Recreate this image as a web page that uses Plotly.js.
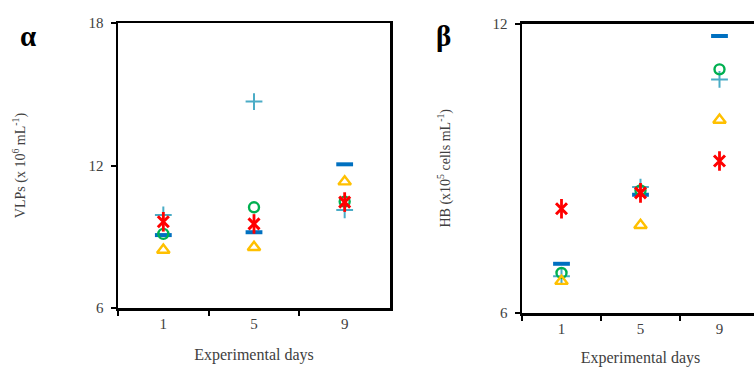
<!DOCTYPE html>
<html>
<head>
<meta charset="utf-8">
<script src="https://cdn.plot.ly/plotly-3.0.1.min.js"></script>
<style>
  html, body { margin: 0; padding: 0; overflow: hidden; background: #fff; }
  #chart { width: 770px; height: 367px; }
</style>
</head>
<body>
<div id="chart"></div>
<script>
// Categories (experimental days)
const days = ["1", "5", "9"];

// Panel α: VLPs (x 10^6 mL^-1)
const vlpDash     = [9.07, 9.19, 12.05];
const vlpCircle   = [9.12, 10.24, 10.48];
const vlpPlus     = [9.92, 14.69, 10.13];
const vlpTriangle = [8.44, 8.56, 11.32];
const vlpStar     = [9.63, 9.54, 10.46];

// Panel β: HB (x10^5 cells mL^-1)
const hbDash     = [7.02, 8.45, 11.74];
const hbCircle   = [6.83, 8.54, 11.05];
const hbPlus     = [6.76, 8.61, 10.84];
const hbTriangle = [6.66, 7.82, 10.00];
const hbStar     = [8.16, 8.49, 9.15];

// Y tick values
const vlpTicks = [6, 12, 18];
const hbTicks = [6, 12];

const C = { dash: "#0070C0", circle: "#00B050", plus: "#4BACC6", tri: "#FFC000", star: "#FF0000" };

function series(xa, ya, d) {
  const base = { x: days, type: "scatter", mode: "markers", xaxis: xa, yaxis: ya, showlegend: false, hoverinfo: "y" };
  return [
    Object.assign({}, base, { y: d.dash, marker: { symbol: "line-ew", size: 12, color: C.dash, line: { color: C.dash, width: 4 } } }),
    Object.assign({}, base, { y: d.plus, marker: { symbol: "cross-thin", size: 12, color: C.plus, line: { color: C.plus, width: 2 } } }),
    Object.assign({}, base, { y: d.circle, marker: { symbol: "circle-open", size: 10, color: C.circle, line: { color: C.circle, width: 2.4 } } }),
    Object.assign({}, base, { y: d.tri, marker: { symbol: "triangle-up-open", size: 11, color: C.tri, line: { color: C.tri, width: 2.4 } } }),
    Object.assign({}, base, { y: d.star, marker: { symbol: "x-thin", size: 11, color: C.star, line: { color: C.star, width: 3 } } }),
    Object.assign({}, base, { y: d.star, marker: { symbol: "line-ns", size: 14, color: C.star, line: { color: C.star, width: 2.8 } } })
  ];
}

const traces = [].concat(
  series("x", "y", { dash: vlpDash, circle: vlpCircle, plus: vlpPlus, tri: vlpTriangle, star: vlpStar }),
  series("x2", "y2", { dash: hbDash, circle: hbCircle, plus: hbPlus, tri: hbTriangle, star: hbStar })
);

const W = 770, H = 367;
const SERIF = "Liberation Serif, Times New Roman, serif";
const tickFont = { family: SERIF, size: 15, color: "#404040" };
const xTitleFont = { family: SERIF, size: 16, color: "#404040" };
const yTitleFont = { family: SERIF, size: 14, color: "#404040" };

const xCommon = {
  type: "category", tickson: "boundaries", ticks: "outside", ticklen: 5, tickwidth: 2, tickcolor: "#000",
  showline: true, linecolor: "#000", linewidth: 2.5, mirror: true, showgrid: false, zeroline: false,
  tickfont: tickFont, range: [-0.5, 2.5]
};
const yCommon = {
  ticks: "outside", ticklen: 5, tickwidth: 2, tickcolor: "#000",
  showline: true, linecolor: "#000", linewidth: 2.5, mirror: true, showgrid: false, zeroline: false,
  tickfont: tickFont, ticklabelstandoff: 4
};

const layout = {
  width: W, height: H,
  margin: { l: 0, r: 0, t: 0, b: 0 },
  paper_bgcolor: "#fff", plot_bgcolor: "#fff",
  xaxis: Object.assign({}, xCommon, {
    domain: [118 / W, 390 / W], anchor: "y",
    title: { text: "Experimental days", font: xTitleFont, standoff: 19 }
  }),
  yaxis: Object.assign({}, yCommon, {
    domain: [1 - 308 / H, 1 - 23 / H], anchor: "x", range: [6, 18], tickvals: vlpTicks,
    title: { text: "VLPs (x 10<sup>6</sup> mL<sup>-1</sup>)", font: yTitleFont, standoff: 60 }
  }),
  xaxis2: Object.assign({}, xCommon, {
    domain: [522 / W, 759 / W], anchor: "y2",
    title: { text: "Experimental days", font: xTitleFont, standoff: 20 }
  }),
  yaxis2: Object.assign({}, yCommon, {
    domain: [1 - 313 / H, 1 - 23.5 / H], anchor: "x2", range: [6, 12], tickvals: hbTicks,
    title: { text: "HB (x10<sup>5</sup> cells mL<sup>-1</sup>)", font: yTitleFont, standoff: 39 }
  }),
  annotations: [
    { text: "<b>α</b>", xref: "paper", yref: "paper", x: 28 / W, y: 1 - 36 / H, xanchor: "center", yanchor: "middle", showarrow: false,
      font: { family: SERIF, size: 29, color: "#000" } },
    { text: "<b>β</b>", xref: "paper", yref: "paper", x: 443 / W, y: 1 - 36 / H, xanchor: "center", yanchor: "middle", showarrow: false,
      font: { family: SERIF, size: 29, color: "#000" } }
  ]
};

Plotly.newPlot("chart", traces, layout, { displayModeBar: false, staticPlot: true });
</script>
</body>
</html>
